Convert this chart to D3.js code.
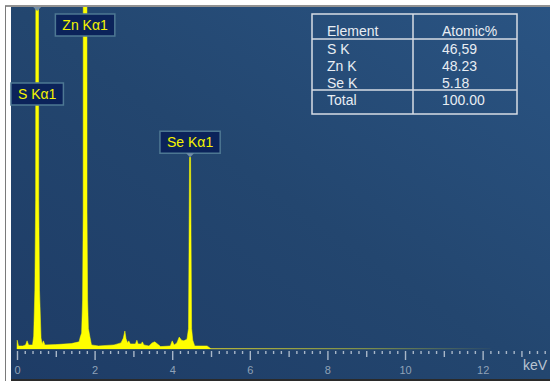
<!DOCTYPE html>
<html><head><meta charset="utf-8">
<script src="https://cdn.jsdelivr.net/npm/d3@7"></script>
<style>html,body{margin:0;padding:0;background:#fff;overflow:hidden}svg{display:block}</style>
</head><body><svg id="c" width="550" height="383"></svg>
<script>
// ---- data (keV, counts) ----
const energy = [0.00,0.005,0.04,0.15,0.22,0.26,0.30,0.40,0.43,0.46,0.48,0.503,0.537,0.56,0.58,0.62,0.65,0.68,0.72,1.00,1.40,
  1.60,1.63,1.665,1.69,1.705,1.715,1.795,1.805,1.82,1.84,1.88,1.92,2.10,2.50,2.68,2.74,2.78,2.81,2.85,2.88,2.92,3.05,3.09,3.12,
  3.20,3.23,3.27,3.40,3.48,3.55,3.62,3.70,3.95,4.00,4.05,4.12,4.18,4.24,4.30,4.38,4.42,4.447,4.473,4.50,4.53,4.58,4.90,4.98,5.00];
const counts = [0,26,9,9,12,24,12,12,38,173,438,3000,3000,438,173,32,15,24,12,13,16,
  21,35,47,144,400,3000,3000,400,144,60,35,12,9,12,18,32,53,30,18,24,15,15,26,15,
  15,21,12,9,18,21,15,7,9,24,12,18,35,26,24,29,60,564,564,60,26,9,9,2,1];
const tailEnergy = [5.0, 7.0, 9.0, 11.0, 12.2];
const tailCounts = [1, 1, 1, 1, 1];
const peakNames = ["S Kα1", "Zn Kα1", "Se Kα1"];
const peakEnergy = [0.52, 1.755, 4.46];
const tableHeader = ["Element", "Atomic%"];
const tableElements = ["S K", "Zn K", "Se K"];
const tableAtomic = ["46,59", "48.23", "5.18"];
const tableTotal = ["Total", "100.00"];
const majorTicks = [0, 2, 4, 6, 8, 10, 12];
const axisUnit = "keV";

// ---- layout ----
const W = 550, H = 383;
const panel = {x0: 11, y0: 7, x1: 550, y1: 379};
const svg = d3.select("#c");
const x = d3.scaleLinear().domain([0, 13.7]).range([17, 548.6]);
const y = d3.scaleLinear().domain([0, 1000]).range([349, 9]);

const defs = svg.append("defs");
const bg = defs.append("linearGradient").attr("id","bg").attr("x1","0").attr("y1","1").attr("x2","1").attr("y2","0");
bg.append("stop").attr("offset","0").attr("stop-color","#1e3c66");
bg.append("stop").attr("offset","0.5").attr("stop-color","#23466f");
bg.append("stop").attr("offset","1").attr("stop-color","#2a5483");
defs.append("clipPath").attr("id","clip").append("rect")
  .attr("x", panel.x0).attr("y", panel.y0).attr("width", panel.x1 - panel.x0).attr("height", 349.5 - panel.y0);
const tg = defs.append("linearGradient").attr("id","tail").attr("gradientUnits","userSpaceOnUse")
  .attr("x1", x(5)).attr("x2", x(12.2)).attr("y1",0).attr("y2",0);
tg.append("stop").attr("offset","0").attr("stop-color","#b4b43a");
tg.append("stop").attr("offset","0.55").attr("stop-color","#7f8f4a");
tg.append("stop").attr("offset","1").attr("stop-color","#2a4a6a");

// frame
svg.append("rect").attr("width",W).attr("height",H).attr("fill","#fff");
svg.append("line").attr("x1",5).attr("x2",W).attr("y1",6).attr("y2",6).attr("stroke","#6e6e6e").attr("stroke-width",1.5);
svg.append("line").attr("x1",5.5).attr("x2",5.5).attr("y1",6).attr("y2",381).attr("stroke","#7a7a7a").attr("stroke-width",1);
svg.append("rect").attr("x",panel.x0).attr("y",panel.y0).attr("width",panel.x1-panel.x0).attr("height",panel.y1-panel.y0).attr("fill","url(#bg)");
svg.append("line").attr("x1",panel.x0).attr("x2",W).attr("y1",380).attr("y2",380).attr("stroke","#2a2a2a").attr("stroke-width",2);

// spectrum
const g = svg.append("g").attr("clip-path","url(#clip)");
const pts = energy.map((e,i)=>[e, counts[i]]);
g.append("path").datum(pts)
  .attr("d", d3.area().x(d=>x(d[0])).y0(y(0)).y1(d=>y(d[1])))
  .attr("fill","#ffff00").attr("stroke","#ffff00").attr("stroke-width",0.5);
g.append("path").datum(tailEnergy.map((e,i)=>[e, tailCounts[i]]))
  .attr("d", d3.line().x(d=>x(d[0])).y(d=>y(d[1])))
  .attr("fill","none").attr("stroke","url(#tail)").attr("stroke-width",1.5);

// axis ticks
function tickAxis(vals, size, pad, labels) {
  const ax = d3.axisBottom(x).tickValues(vals).tickSize(size).tickPadding(pad)
    .tickFormat(labels ? d3.format("d") : "");
  const a = svg.append("g").attr("transform","translate(0,351)").call(ax);
  a.select(".domain").remove();
  a.selectAll("line").attr("stroke","#a9b7c8").attr("stroke-width",1.4);
  a.selectAll("text").attr("fill","#8fa2b8").attr("font-family","Liberation Sans, Arial, sans-serif").attr("font-size",11);
  return a;
}
const minor = d3.range(0, 69).map(i => +(i*0.2).toFixed(1)).filter(v => Math.abs(v - Math.round(v)) > 0.01);
const odd = d3.range(1, 14, 2);
tickAxis(minor, 3, 0, false);
tickAxis(odd, 6, 0, false);
tickAxis(majorTicks, 9, 6, true);
svg.append("text").attr("x",547).attr("y",370).attr("text-anchor","end")
  .attr("font-family","Liberation Sans, Arial, sans-serif").attr("font-size",14).attr("fill","#b9c4d2").text(axisUnit);

// peak labels
const labelBoxTop = [83, 14, null];
peakNames.forEach((name, i) => {
  const cx = x(peakEnergy[i]);
  const peakTop = Math.max(y(d3.max(pts.filter(p => Math.abs(p[0]-peakEnergy[i]) < 0.06), p => p[1])), panel.y0);
  const top = labelBoxTop[i] != null ? labelBoxTop[i] : peakTop - 26;
  const lg = svg.append("g");
  const t = lg.append("text").attr("x", cx).attr("y", top + 16).attr("text-anchor","middle")
    .attr("font-family","Liberation Sans, Arial, sans-serif").attr("font-size",14).attr("fill","#f4f400").text(name);
  const w = t.node().getComputedTextLength() + 14;
  lg.insert("rect","text").attr("x", cx - w/2).attr("y", top).attr("width", w).attr("height", 22)
    .attr("fill","#0b235a").attr("stroke","#4e7893").attr("stroke-width",1.5);
  const my = labelBoxTop[i] != null ? (i === 0 ? panel.y0 : null) : top + 22;
  if (my != null) {
    svg.append("path").attr("d", `M${cx-4},${my}L${cx+4},${my}L${cx},${my+4}Z`).attr("fill","#6f8ca6");
  }
});

// table
const tb = {x0: 312, x1: 517, xm: 413, y0: 14, y1: 114, h1: 39, h2: 90};
const tab = svg.append("g").attr("stroke","#d7dde5").attr("stroke-width",1.5).attr("fill","none");
tab.append("rect").attr("x",tb.x0).attr("y",tb.y0).attr("width",tb.x1-tb.x0).attr("height",tb.y1-tb.y0);
tab.append("line").attr("x1",tb.xm).attr("x2",tb.xm).attr("y1",tb.y0).attr("y2",tb.y1);
tab.append("line").attr("x1",tb.x0).attr("x2",tb.x1).attr("y1",tb.h1).attr("y2",tb.h1);
tab.append("line").attr("x1",tb.x0).attr("x2",tb.x1).attr("y1",tb.h2).attr("y2",tb.h2);
const rows = [tableHeader].concat(tableElements.map((e,i)=>[e, tableAtomic[i]])).concat([tableTotal]);
const baselines = [36, 53.5, 70.5, 87.5, 104.5];
rows.forEach((r, i) => {
  [327, 442].forEach((tx, j) => {
    svg.append("text").attr("x", tx).attr("y", baselines[i])
      .attr("font-family","Liberation Sans, Arial, sans-serif").attr("font-size",14).attr("fill","#e8edf3").text(r[j]);
  });
});
</script></body></html>
